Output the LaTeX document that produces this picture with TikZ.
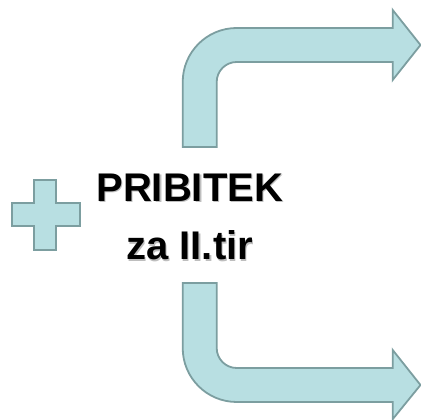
\documentclass[tikz,border=0pt]{standalone}
\usepackage{fontspec}
\setmainfont{Liberation Sans}
\definecolor{shapefill}{RGB}{184,223,226}
\definecolor{shapeline}{RGB}{124,158,160}
\definecolor{txtshadow}{RGB}{190,190,190}
\newcommand{\shadowtext}[1]{\makebox[0pt][l]{\hspace{1.3pt}\raisebox{-1.3pt}{\textcolor{txtshadow}{#1}}}#1}
\tikzset{
  bentarrow/.style={fill=shapefill, draw=shapeline, line width=1.8pt, line join=miter},
  label/.style={font=\fontsize{40}{48}\selectfont\bfseries, inner sep=0pt, anchor=base}
}
\begin{document}
\begin{tikzpicture}[x=1pt,y=1pt]
\useasboundingbox (0,0) rectangle (421,420);
% top bent arrow
\draw[bentarrow] (182.7,273) -- (182.7,338) arc[start angle=180,end angle=90,radius=54]
  -- (392.7,392) -- (392.7,410) -- (420.5,375) -- (392.7,340) -- (392.7,358)
  -- (236.7,358) arc[start angle=90,end angle=180,radius=20] -- (216.7,273) -- cycle;
% bottom bent arrow
\draw[bentarrow] (182.7,137) -- (182.7,72) arc[start angle=180,end angle=270,radius=54]
  -- (392.7,18) -- (392.7,0.8) -- (420.5,35) -- (392.7,70) -- (392.7,52)
  -- (236.7,52) arc[start angle=270,end angle=180,radius=20] -- (216.7,137) -- cycle;
% plus sign
\draw[bentarrow] (34,240) -- (56,240) -- (56,216.7) -- (80,216.7) -- (80,194) -- (56,194)
  -- (56,170) -- (34,170) -- (34,194) -- (11.7,194) -- (11.7,216.7) -- (34,216.7) -- cycle;
% text
\node[label] (t1) at (189.7,218.3) {\shadowtext{PRIBITEK}};
\node[label] (t2) at (189.7,160) {\shadowtext{za II.tir}};
\end{tikzpicture}
\end{document}
